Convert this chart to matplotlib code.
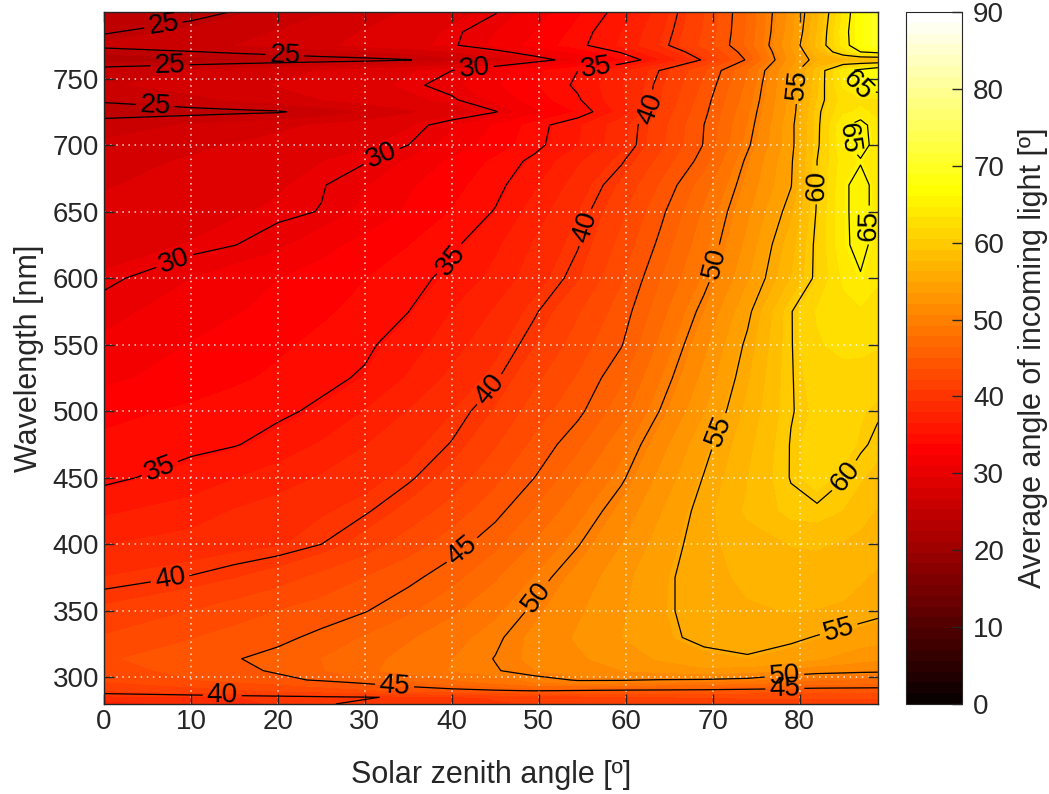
import numpy as np
import matplotlib
matplotlib.use('Agg')
import matplotlib.pyplot as plt
from matplotlib import cm, colors

plt.rcParams['font.family'] = ['Liberation Sans', 'DejaVu Sans']

# solar zenith angle [deg] (columns) and wavelength [nm] (rows)
sza = [0, 10, 15, 20, 25, 30, 35, 40, 45, 49.5, 54.5, 59.5, 64, 69, 74, 79, 82, 85, 87, 89]
wavelength = [280, 285, 290, 296, 298, 305, 314, 330, 350, 375, 400, 425, 450, 475,
              500, 525, 550, 575, 600, 625, 650, 670, 688, 700, 715, 725, 734, 745,
              756, 764, 770, 775, 785, 800]

# average angle of incoming light [deg]
angle = np.array([
    [37.0, 38.5, 39.0, 39.5, 39.9, 40.2, 40.4, 40.5, 40.7, 40.8, 41.0, 41.2, 41.3, 41.4, 41.5, 41.5, 41.5, 41.5, 41.5, 41.5],
    [39.0, 39.2, 39.35, 39.5, 39.7, 39.9, 40.2, 40.5, 40.85, 41.2, 41.5, 41.8, 42.0, 42.2, 42.3, 42.4, 42.4, 42.4, 42.4, 42.4],
    [40.8, 41.5, 41.9, 42.3, 42.8, 43.3, 43.85, 44.4, 44.8, 45.1, 44.9, 44.7, 44.6, 44.5, 44.3, 44.1, 44.0, 44.0, 44.0, 44.0],
    [42.0, 43.0, 43.4, 43.9, 44.5, 45.2, 46.1, 47.0, 48.1, 49.2, 49.6, 49.4, 49.1, 48.8, 48.3, 47.6, 47.2, 47.0, 46.9, 46.8],
    [42.5, 43.5, 44.0, 44.6, 45.2, 45.9, 46.8, 47.7, 48.6, 49.5, 50.1, 50.1, 49.9, 49.8, 49.4, 48.3, 47.8, 47.5, 47.4, 47.3],
    [43.0, 44.0, 44.6, 45.2, 46.3, 47.5, 48.4, 49.3, 49.9, 50.6, 51.3, 52.0, 52.6, 53.0, 52.8, 51.5, 51.0, 50.8, 50.6, 50.5],
    [43.4, 44.3, 44.9, 45.5, 46.4, 47.3, 48.3, 49.2, 50.05, 50.9, 51.8, 52.7, 53.6, 54.5, 54.8, 54.3, 53.6, 53.0, 52.6, 52.3],
    [42.3, 43.5, 44.1, 44.6, 45.4, 46.5, 47.6, 48.7, 49.75, 50.9, 52.2, 53.4, 54.6, 55.4, 55.8, 55.3, 54.9, 54.5, 54.2, 54.0],
    [41.1, 42.2, 42.9, 43.6, 44.2, 44.9, 46.1, 47.5, 48.9, 50.3, 51.8, 53.2, 54.7, 55.6, 56.1, 56.3, 56.2, 56.0, 55.7, 55.4],
    [39.4, 40.1, 40.7, 41.5, 42.6, 43.6, 44.55, 45.9, 47.6, 49.3, 51.1, 52.9, 54.6, 55.8, 56.5, 57.0, 57.0, 56.8, 56.4, 56.0],
    [37.9, 38.6, 38.9, 39.2, 40.0, 41.4, 42.9, 44.3, 46.0, 47.9, 49.9, 52.0, 54.1, 55.8, 57.0, 57.7, 57.8, 57.5, 57.2, 56.9],
    [36.3, 37.2, 38.05, 38.6, 39.2, 39.8, 41.2, 42.8, 44.5, 46.5, 48.7, 51.0, 53.3, 55.7, 57.9, 59.5, 59.7, 59.0, 58.2, 57.5],
    [34.6, 35.7, 36.5, 37.3, 38.1, 38.9, 39.75, 41.3, 43.2, 45.0, 47.4, 49.7, 52.4, 55.1, 57.6, 60.1, 61.0, 60.1, 59.2, 58.5],
    [34.1, 34.6, 34.9, 35.6, 36.7, 37.9, 38.9, 40.1, 42.0, 43.9, 46.0, 48.6, 51.4, 54.4, 57.2, 60.1, 61.0, 61.0, 60.3, 59.6],
    [33.3, 34.0, 34.4, 34.7, 35.3, 36.6, 38.0, 39.3, 40.9, 42.8, 44.6, 47.2, 50.1, 53.3, 56.6, 59.9, 60.7, 60.8, 60.6, 60.2],
    [32.0, 33.0, 33.5, 34.0, 34.6, 35.2, 36.7, 38.3, 39.8, 41.8, 43.7, 46.1, 49.1, 52.4, 56.0, 59.9, 61.0, 61.3, 61.2, 61.0],
    [31.2, 32.4, 33.0, 33.5, 34.1, 34.7, 35.8, 37.4, 38.9, 40.7, 42.8, 44.9, 48.1, 51.6, 55.4, 59.9, 61.7, 62.3, 62.3, 62.0],
    [30.5, 31.6, 32.2, 32.8, 33.5, 34.2, 34.98, 36.6, 38.1, 39.8, 42.0, 44.2, 47.2, 50.6, 54.5, 59.9, 62.0, 62.8, 63.0, 62.5],
    [29.7, 30.9, 31.6, 32.3, 33.0, 33.7, 34.5, 35.4, 37.0, 38.7, 40.6, 43.4, 46.3, 49.4, 53.2, 57.6, 60.5, 63.5, 64.8, 63.5],
    [29.0, 29.6, 29.97, 30.6, 31.8, 32.8, 33.7, 34.7, 36.25, 38.1, 39.9, 42.6, 45.4, 48.7, 52.4, 57.0, 60.5, 64.5, 65.8, 64.0],
    [28.5, 29.1, 29.4, 29.7, 30.05, 31.3, 32.55, 33.8, 35.1, 37.2, 39.3, 41.8, 44.6, 48.0, 51.7, 55.8, 60.2, 64.5, 66.0, 64.0],
    [28.0, 28.7, 29.05, 29.4, 29.9, 30.8, 32.1, 33.3, 34.5, 36.3, 38.6, 41.0, 43.7, 47.1, 51.0, 54.9, 60.0, 64.5, 66.0, 64.0],
    [27.5, 28.3, 28.7, 29.1, 29.5, 29.9, 31.1, 32.6, 34.0, 35.4, 37.7, 39.8, 42.6, 45.7, 50.4, 54.7, 60.0, 64.0, 64.8, 63.5],
    [27.0, 27.8, 28.2, 28.6, 29.0, 29.4, 30.0, 31.5, 33.0, 34.5, 36.5, 38.9, 41.8, 45.1, 49.7, 54.4, 59.6, 64.5, 66.0, 64.0],
    [26.0, 26.9, 27.35, 27.8, 28.3, 28.8, 29.4, 30.7, 32.5, 34.3, 36.3, 38.8, 41.6, 45.0, 49.2, 54.4, 59.5, 64.5, 66.0, 63.5],
    [24.0, 24.3, 24.55, 24.8, 25.8, 26.8, 27.85, 28.9, 29.9, 31.9, 33.9, 37.1, 41.1, 44.6, 48.9, 54.0, 59.5, 63.0, 63.5, 63.0],
    [25.3, 26.3, 26.9, 27.5, 28.1, 28.7, 29.25, 29.8, 31.25, 33.0, 34.8, 37.7, 40.7, 44.3, 48.5, 53.9, 59.0, 62.5, 63.0, 63.0],
    [26.5, 27.3, 27.75, 28.2, 28.7, 29.2, 29.7, 30.5, 32.1, 33.6, 35.3, 37.8, 40.5, 43.8, 48.1, 53.8, 58.6, 63.5, 65.5, 67.0],
    [26.0, 26.8, 27.25, 27.7, 28.2, 28.7, 29.4, 30.0, 31.6, 33.4, 35.0, 37.5, 40.1, 43.3, 47.6, 53.6, 58.3, 64.0, 66.0, 68.0],
    [23.0, 23.5, 23.75, 24.0, 24.25, 24.5, 24.9, 26.2, 27.6, 29.1, 31.0, 33.5, 36.5, 40.3, 45.3, 52.7, 56.0, 57.0, 57.0, 57.0],
    [24.3, 24.9, 25.25, 25.6, 26.05, 26.5, 27.2, 28.0, 29.5, 31.0, 32.8, 35.2, 38.0, 41.5, 46.0, 53.0, 57.0, 62.0, 65.0, 66.0],
    [25.5, 26.2, 26.7, 27.2, 27.85, 28.5, 29.2, 29.8, 31.2, 32.8, 34.5, 36.8, 39.4, 42.6, 46.7, 53.4, 58.0, 63.9, 67.0, 70.0],
    [24.9, 25.5, 26.15, 26.8, 27.5, 28.2, 28.95, 29.7, 30.9, 32.3, 34.2, 36.5, 39.1, 42.3, 46.6, 52.9, 57.6, 64.1, 67.0, 70.0],
    [24.0, 24.6, 25.05, 25.8, 26.6, 27.4, 28.3, 29.1, 29.9, 31.6, 33.5, 35.7, 38.6, 42.1, 46.5, 52.6, 57.1, 63.5, 67.0, 70.0],
])

line_levels = [25, 30, 35, 40, 45, 50, 55, 60, 65]
# where the contour labels sit (sza, wavelength)
label_pos = [(7.0, 783), (20.8, 766), (7.6, 756), (5.9, 732),
             (9.3, 591), (32.3, 685), (42.6, 756),
             (56.7, 755), (39.8, 614), (7.0, 447),
             (65.3, 725), (44.4, 516), (7.8, 366), (13.6, 287),
             (58.7, 631), (41.5, 393), (33.4, 292), (78.3, 291),
             (70.8, 610), (50.1, 359), (78.3, 300),
             (80.6, 745), (71.4, 483), (84.6, 333),
             (82.3, 670), (85.7, 449),
             (86.0, 738), (86.5, 705), (87.5, 640)]

text_col = '#262626'

fig = plt.figure(figsize=(10.49, 7.94), dpi=100)
ax = fig.add_axes([0.0991, 0.1134, 0.7378, 0.8715])
cax = fig.add_axes([0.8637, 0.1134, 0.0534, 0.8715])

cmap = plt.get_cmap('hot', 64)
norm = colors.Normalize(vmin=0, vmax=90)

ax.contourf(sza, wavelength, angle, levels=np.linspace(0, 90, 65), cmap=cmap, norm=norm)
cs = ax.contour(sza, wavelength, angle, levels=line_levels, colors='k', linewidths=0.9)
ax.clabel(cs, fmt='%d', fontsize=20, manual=label_pos, inline_spacing=4)

ax.set_xlim(0, 89)
ax.set_ylim(280, 800)
ax.set_xticks(np.arange(0, 90, 10))
ax.set_yticks(np.arange(300, 800, 50))
ax.grid(True, color='white', linestyle=(0, (1, 3)), linewidth=1.1, alpha=0.85)
ax.tick_params(direction='in', length=7, top=True, right=True, labelsize=20,
               colors=text_col, width=1)
for s in ax.spines.values():
    s.set_color(text_col)
    s.set_linewidth(1)
ax.set_xlabel('Solar zenith angle [º]', fontsize=22, color=text_col, labelpad=18)
ax.set_ylabel('Wavelength [nm]', fontsize=22, color=text_col, labelpad=6)

cb = fig.colorbar(cm.ScalarMappable(norm=norm, cmap=cmap), cax=cax)
cb.set_ticks(np.arange(0, 91, 10))
cb.ax.tick_params(direction='in', length=7, labelsize=20, colors=text_col, width=1, pad=8)
cb.outline.set_edgecolor(text_col)
cb.set_label('Average angle of incoming light [º]', fontsize=22, color=text_col, labelpad=10)

fig.savefig('out.png', dpi=100)
